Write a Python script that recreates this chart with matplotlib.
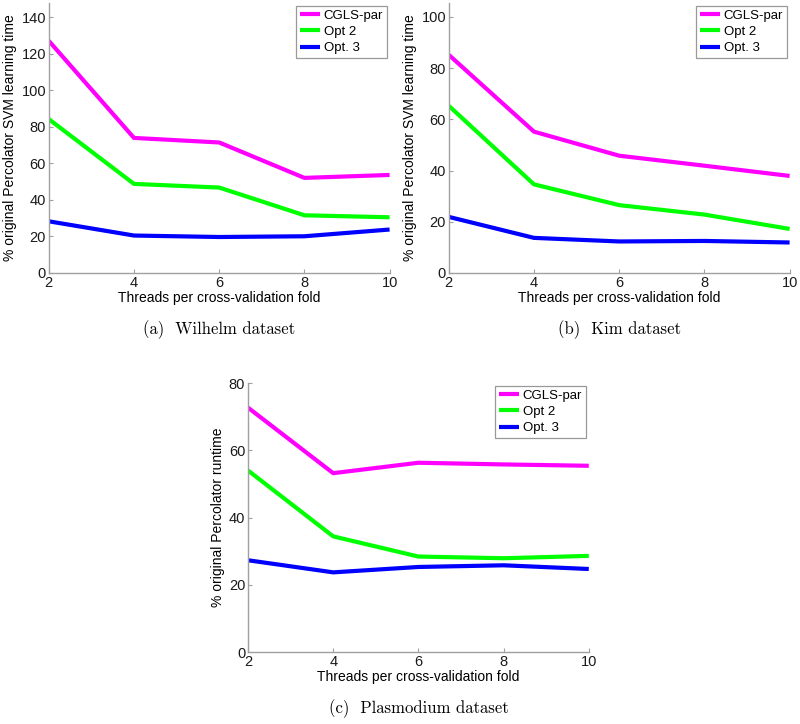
import matplotlib.pyplot as plt

plt.rcParams['font.family'] = ['Liberation Sans', 'DejaVu Sans']

threads = [2, 4, 6, 8, 10]
series_names = ['CGLS-par', 'Opt 2', 'Opt. 3']
series_colors = ['#ff00ff', '#00ff00', '#0000ff']

# (a) Wilhelm
wilhelm_cgls = [127.2, 74.0, 71.5, 52.1, 53.7]
wilhelm_opt2 = [84.3, 48.8, 46.8, 31.6, 30.5]
wilhelm_opt3 = [28.3, 20.5, 19.7, 20.1, 23.8]

# (b) Kim
kim_cgls = [85.2, 55.2, 45.8, 41.9, 37.9]
kim_opt2 = [65.3, 34.6, 26.5, 22.8, 17.2]
kim_opt3 = [21.9, 13.7, 12.3, 12.5, 11.9]

# (c) Plasmodium
plasmo_cgls = [72.7, 53.2, 56.3, 55.8, 55.4]
plasmo_opt2 = [54.0, 34.4, 28.4, 27.9, 28.6]
plasmo_opt3 = [27.3, 23.7, 25.3, 25.8, 24.7]

fig = plt.figure(figsize=(8, 7.24), dpi=100)

panels = [
    ([0.061, 0.623, 0.426, 0.373], [wilhelm_cgls, wilhelm_opt2, wilhelm_opt3],
     148, [0, 20, 40, 60, 80, 100, 120, 140],
     '% original Percolator SVM learning time', '(a)  Wilhelm dataset'),
    ([0.561, 0.623, 0.426, 0.373], [kim_cgls, kim_opt2, kim_opt3],
     105.5, [0, 20, 40, 60, 80, 100],
     '% original Percolator SVM learning time', '(b)  Kim dataset'),
    ([0.31, 0.0994, 0.426, 0.3715], [plasmo_cgls, plasmo_opt2, plasmo_opt3],
     80, [0, 20, 40, 60, 80],
     '% original Percolator runtime', '(c)  Plasmodium dataset'),
]

for rect, data, ytop, yticks, ylab, caption in panels:
    ax = fig.add_axes(rect)
    for vals, name, col in zip(data, series_names, series_colors):
        ax.plot(threads, vals, color=col, lw=3, label=name, solid_capstyle='butt')
    ax.set_xlim(2, 10)
    ax.set_ylim(0, ytop)
    ax.set_xticks(threads)
    ax.set_yticks(yticks)
    ax.spines['top'].set_visible(False)
    ax.spines['right'].set_visible(False)
    for s in ['left', 'bottom']:
        ax.spines[s].set_color('#a0a0a0')
        ax.spines[s].set_linewidth(1.0)
    ax.tick_params(direction='in', length=3, width=0.8, color='#a0a0a0',
                   labelcolor='#1a1a1a', labelsize=10.5, pad=2)
    ax.set_xlabel('Threads per cross-validation fold', fontsize=10, labelpad=1)
    ax.set_ylabel(ylab, fontsize=10, labelpad=3)
    leg = ax.legend(loc='upper right', fontsize=9.5, handlelength=1.5,
                    borderaxespad=0.2, fancybox=False, framealpha=1,
                    handletextpad=0.3, labelspacing=0.3, borderpad=0.3)
    leg.get_frame().set_edgecolor('#999999')
    leg.get_frame().set_linewidth(0.9)
    ax.text(0.5, -0.21, caption, transform=ax.transAxes, ha='center', va='center',
            fontsize=12, family=['cmr10', 'DejaVu Serif'])

fig.savefig('out.png', dpi=100)
